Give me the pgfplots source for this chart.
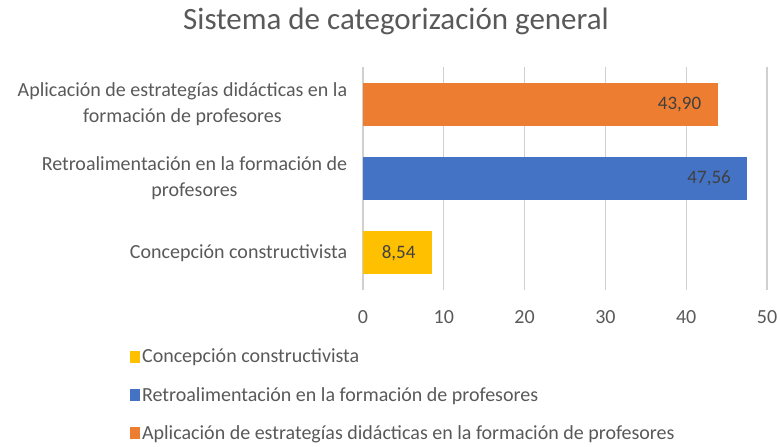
\documentclass[border=0pt]{standalone}
\usepackage{pgfplots}
\pgfplotsset{compat=1.18}
\usepackage{fontspec}
\setmainfont{Carlito}
\definecolor{cyel}{HTML}{FFC000}
\definecolor{cblu}{HTML}{4472C4}
\definecolor{cora}{HTML}{ED7D31}
\definecolor{ctxt}{HTML}{595959}
\definecolor{clab}{HTML}{404040}
\definecolor{cgrid}{HTML}{D0D0D0}
\begin{document}
\begin{tikzpicture}
\useasboundingbox (0,0) rectangle (780pt,-447pt);
\node[font=\fontsize{31}{36}\selectfont, text=ctxt] at (396pt,-21pt) {Sistema de categorización general};
\begin{axis}[
  at={(363pt,-67pt)}, anchor=north west,
  width=404pt, height=223pt, scale only axis,
  xbar, bar width=43pt,
  xmin=0, xmax=50, ymin=-0.5, ymax=2.5,
  xtick={0,10,20,30,40,50},
  ytick={0,1,2},
  yticklabels={Concepción constructivista, {Retroalimentación en la formación de\\profesores}, {Aplicación de estrategías didácticas en la\\formación de profesores}},
  yticklabel style={align=center, font=\fontsize{20}{26}\selectfont, text=ctxt, xshift=-8pt},
  xticklabel style={font=\fontsize{20}{24}\selectfont, text=ctxt, yshift=-17pt},
  /pgf/number format/assume math mode=true,
  axis line style={draw=none},
  major tick style={draw=none},
  xmajorgrids, grid style={cgrid, line width=1.3pt},
  nodes near coords={\pgfmathprintnumber[use comma,fixed,fixed zerofill,precision=2]{\pgfplotspointmeta}},
  nodes near coords style={anchor=east, xshift=-13pt, font=\fontsize{19}{22}\selectfont, text=clab},
  point meta=x,
  legend style={at={(-0.577,-0.255)}, anchor=north west, draw=none, fill=none,
    font=\fontsize{20}{24}\selectfont, text=ctxt, row sep=19pt, inner sep=0pt},
  legend cell align=left,
  legend image code/.code={\fill[#1] (0pt,-6pt) rectangle (10pt,6pt);},
]
\addplot[fill=cyel, draw=none, bar shift=0pt] coordinates {(8.54,0)};
\addplot[fill=cblu, draw=none, bar shift=0pt] coordinates {(47.56,1)};
\addplot[fill=cora, draw=none, bar shift=0pt] coordinates {(43.90,2)};
\legend{Concepción constructivista, Retroalimentación en la formación de profesores, Aplicación de estrategías didácticas en la formación de profesores}
\end{axis}
\end{tikzpicture}
\end{document}
